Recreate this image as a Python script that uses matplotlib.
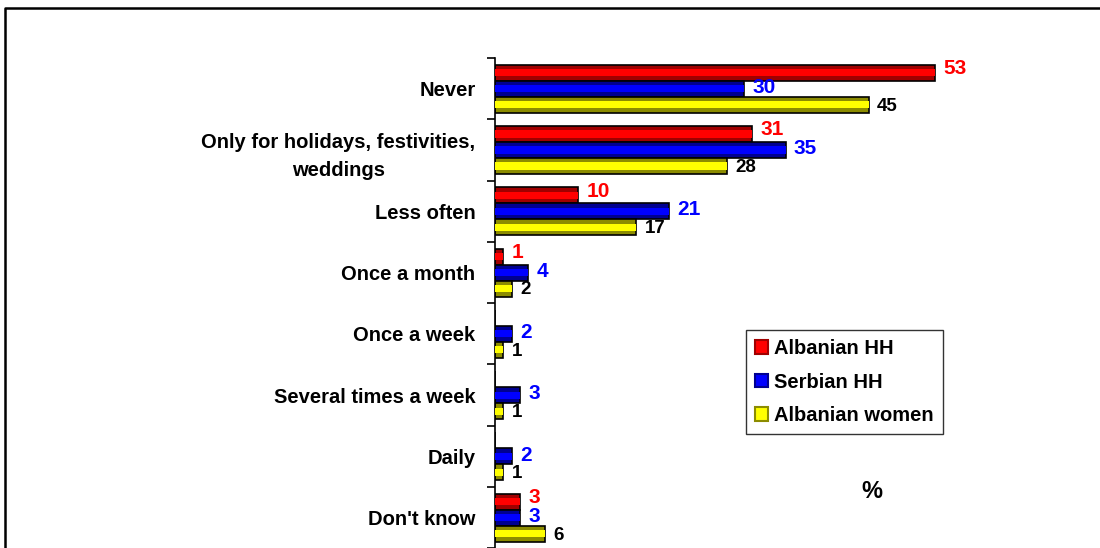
import matplotlib.pyplot as plt
from matplotlib.lines import Line2D
from matplotlib.patches import Patch
import numpy as np

plt.rcParams['font.family'] = ['Liberation Sans', 'DejaVu Sans']

# ---------------------------
# Datos
# ---------------------------
categories = ["Never", "Only for holidays, festivities,\nweddings", "Less often",
              "Once a month", "Once a week", "Several times a week", "Daily",
              "Don't know"]
series_names = ["Albanian HH", "Serbian HH", "Albanian women"]
albanian_hh = [53, 31, 10, 1, 0, 0, 0, 3]
serbian_hh = [30, 35, 21, 4, 2, 3, 2, 3]
albanian_women = [45, 28, 17, 2, 1, 1, 1, 6]

series = [albanian_hh, serbian_hh, albanian_women]
fills = ["#FF0000", "#0000FF", "#FFFF00"]
shades = ["#A00000", "#000090", "#8C8C00"]
label_colors = ["#FF0000", "#0000FF", "#000000"]
label_sizes = [15, 15, 13.5]
label_dy = [3, 1, -1]

# ---------------------------
# Figura
# ---------------------------
W, H = 1100, 548
fig = plt.figure(figsize=(W / 100, H / 100), dpi=100)

step = 61.3
top_px = 58
ax_top = 1 - top_px / H
ax_bottom = 1 - (top_px + 8 * step) / H
ax = fig.add_axes([495 / W, ax_bottom, 500 / W, ax_top - ax_bottom])

n = len(categories)
y = np.arange(n)
bh = 16 / step
offsets = [-bh, 0, bh]

for vals, off, fc, sc, lc, ls, dy in zip(series, offsets, fills, shades,
                                          label_colors, label_sizes, label_dy):
    vals = np.array(vals, dtype=float)
    ax.barh(y + off, vals, height=bh, color=sc, edgecolor="black", linewidth=1.2, zorder=2)
    ax.barh(y + off, vals, height=bh * 0.45, color=fc, linewidth=0, zorder=3)
    for yi, v in zip(y + off, vals):
        if v > 0:
            ax.annotate(f"{v:.0f}", (v, yi), xytext=(6, dy), textcoords="offset points",
                        ha="left", va="center", color=lc, fontsize=ls,
                        fontweight="bold", zorder=4)

ax.set_xlim(0, 500 / 8.3)
ax.set_ylim(n - 0.5, -0.5)

for s in ["top", "right", "bottom"]:
    ax.spines[s].set_visible(False)
ax.spines["left"].set_linewidth(1.2)
ax.set_xticks([])

ax.set_yticks(np.arange(-0.5, n, 1.0))
ax.set_yticklabels([])
ax.tick_params(axis="y", which="major", length=6, width=1.2, direction="out")
ax.set_yticks(y, minor=True)
ax.set_yticklabels(categories, minor=True, fontsize=14.5, fontweight="bold",
                   multialignment="center", linespacing=1.6)
ax.tick_params(axis="y", which="minor", length=0, pad=14)

# leyenda
handles = [Patch(facecolor=f, edgecolor=s, linewidth=1.5) for f, s in zip(fills, shades)]
leg = fig.legend(handles, series_names, loc="upper left",
                 bbox_to_anchor=(746 / W, 1 - 330 / H), frameon=True, fancybox=False,
                 edgecolor="black", prop={"weight": "bold", "size": 14.5},
                 handlelength=0.65, handleheight=0.65, handletextpad=0.3,
                 labelspacing=0.72, borderpad=0.45, borderaxespad=0)
leg.get_frame().set_linewidth(1.0)

fig.text(872 / W, 1 - 492 / H, "%", fontsize=17, fontweight="bold",
         ha="center", va="center")

# marco
fig.add_artist(Line2D([5 / W, 5 / W, 1.0], [0, 1 - 8 / H, 1 - 8 / H],
                      transform=fig.transFigure, color="black", linewidth=1.8))

fig.savefig("out.png", dpi=100)
plt.close(fig)
